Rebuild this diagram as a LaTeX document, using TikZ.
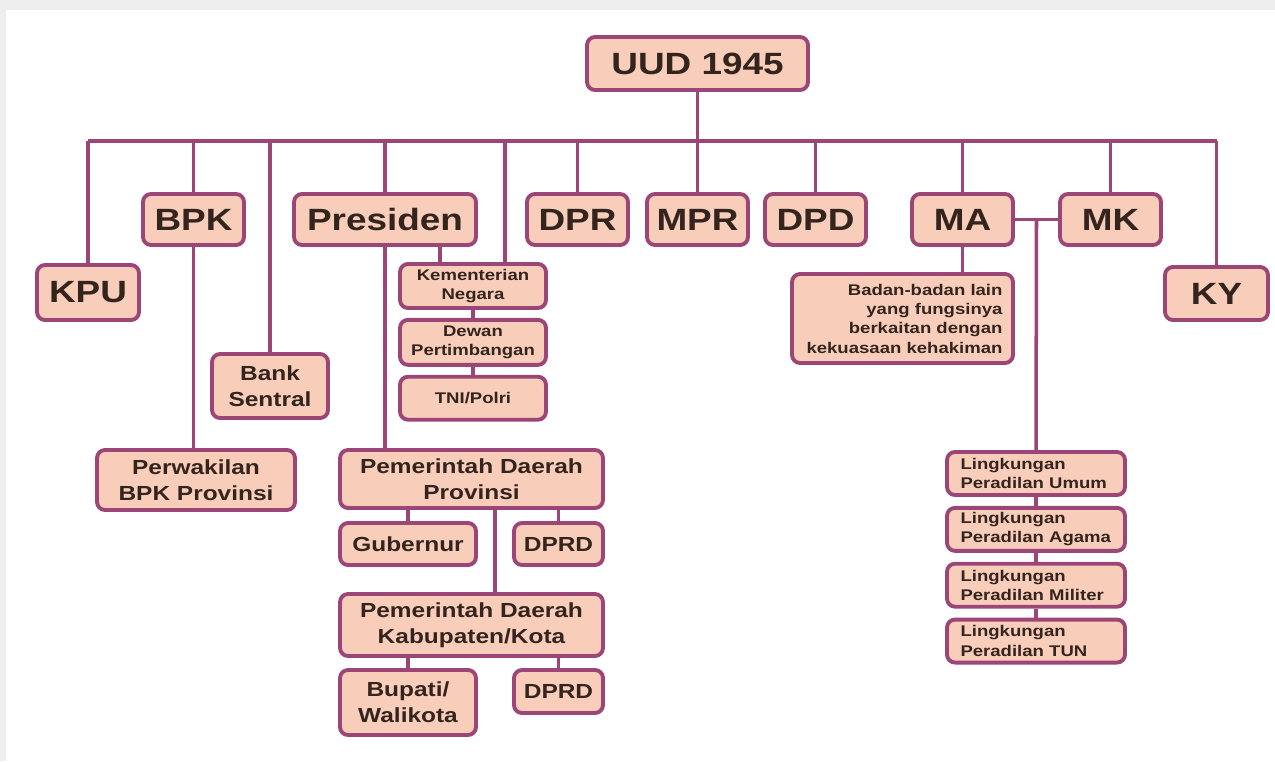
\documentclass[tikz,border=0pt]{standalone}
\usepackage{fontspec}
\newfontfamily\orgfont{Liberation Sans}[FakeStretch=1.2]
\usetikzlibrary{positioning, calc}
\definecolor{boxfill}{RGB}{248,205,186}
\definecolor{boxedge}{RGB}{156,70,120}
\definecolor{boxtext}{RGB}{52,36,30}
\definecolor{scanband}{RGB}{238,238,238}

\begin{document}
\begin{tikzpicture}[
        x=0.02cm, y=-0.02cm,
        node distance=0.16cm,
        unit/.style={rectangle, draw=boxedge, fill=boxfill, line width=2.2pt, rounded corners=0.16cm, text=boxtext, inner sep=2pt, font=\orgfont\bfseries},
        bigunit/.style={unit, font=\orgfont\bfseries\fontsize{17.5}{21}\selectfont, minimum width=2.02cm, minimum height=1.02cm},
        midunit/.style={unit, font=\orgfont\bfseries\fontsize{11.6}{14.6}\selectfont, align=center},
        smallunit/.style={unit, font=\orgfont\bfseries\fontsize{8.8}{11}\selectfont, align=center, minimum width=2.92cm},
        court/.style={smallunit, align=left, text width=3.02cm, minimum width=3.56cm, minimum height=0.86cm},
        link/.style={draw=boxedge, line width=2pt}
    ]
    \useasboundingbox (0,0) rectangle (1275,761);
    \fill[scanband] (0,0) rectangle (1275,10);
    \fill[scanband] (0,0) rectangle (6,761);

    % top level
    \node[bigunit, minimum width=4.42cm, minimum height=1.06cm] (uud) at (697.5,63.5) {UUD 1945};
    \coordinate (bus) at (0,141);

    \node[bigunit, minimum width=2.04cm, minimum height=1.1cm] (kpu) at (88,292.5) {KPU};
    \node[bigunit] (bpk) at (193.5,219.5) {BPK};
    \node[bigunit, minimum width=3.64cm] (pres) at (385,219.5) {Presiden};
    \node[bigunit] (dpr) at (577.5,219.5) {DPR};
    \node[bigunit] (mpr) at (697.5,219.5) {MPR};
    \node[bigunit] (dpd) at (815.5,219.5) {DPD};
    \node[bigunit] (ma) at (962.5,219.5) {MA};
    \node[bigunit] (mk) at (1110.5,219.5) {MK};
    \node[bigunit, minimum width=2.06cm, minimum height=1.06cm] (ky) at (1216.5,293.5) {KY};

    % under BPK and Presiden
    \node[midunit, minimum width=2.32cm, minimum height=1.28cm] (bank) at (270,386) {Bank\\Sentral};
    \node[smallunit, minimum height=0.88cm] (kem) at (473,286) {Kementerian\\Negara};
    \node[smallunit, minimum height=0.9cm, below=of kem] (dewan) {Dewan\\Pertimbangan};
    \node[smallunit, minimum height=0.86cm, below=of dewan] (tni) {TNI/Polri};
    \node[midunit, minimum width=3.96cm, minimum height=1.2cm] (perw) at (196,480) {Perwakilan\\BPK Provinsi};

    \node[midunit, minimum width=5.26cm, minimum height=1.16cm] (prov) at (471.5,479) {Pemerintah Daerah\\Provinsi};
    \node[midunit, minimum width=2.72cm, minimum height=0.84cm] (gub) at (408,544) {Gubernur};
    \node[midunit, minimum width=1.78cm, minimum height=0.84cm] (dprdprov) at (558.5,544) {DPRD};
    \node[midunit, minimum width=5.26cm, minimum height=1.24cm] (kab) at (471.5,625) {Pemerintah Daerah\\Kabupaten/Kota};
    \node[midunit, minimum width=2.72cm, minimum height=1.3cm] (bup) at (408,702.5) {Bupati/\\Walikota};
    \node[midunit, minimum width=1.78cm, minimum height=0.86cm] (dprdkab) at (558.5,691.5) {DPRD};

    % under MA and MK
    \node[smallunit, align=right, text width=4cm, minimum width=4.42cm, minimum height=1.78cm] (badan) at (902.5,318.5) {Badan-badan lain\\yang fungsinya\\berkaitan dengan\\kekuasaan kehakiman};
    \node[court] (umum) at (1036,473.5) {Lingkungan\\Peradilan Umum};
    \node[court, below=0.18cm of umum] (agama) {Lingkungan\\Peradilan Agama};
    \node[court, below=0.18cm of agama] (militer) {Lingkungan\\Peradilan Militer};
    \node[court, below=0.18cm of militer] (tun) {Lingkungan\\Peradilan TUN};

    % connectors
    \draw[link] (kpu.north |- bus) -- (ky.north |- bus);
    \draw[link] (uud.south) -- (mpr.north);
    \foreach \unit in {kpu,bpk,bank,pres,dpr,dpd,ma,mk,ky}
        \draw[link] (\unit.north) -- (\unit.north |- bus);
    \draw[link] ([xshift=0.64cm]kem.north) -- ([xshift=0.64cm]kem.north |- bus);
    \draw[link] ([xshift=-0.66cm]kem.north) -- ([xshift=-0.66cm]kem.north |- pres.south);
    \draw[link] (kem) -- (dewan);
    \draw[link] (dewan) -- (tni);
    \draw[link] (bpk.south) -- (bpk.south |- perw.north);
    \draw[link] (pres.south) -- (pres.south |- prov.north);
    \draw[link] (gub.north) -- (gub.north |- prov.south);
    \draw[link] (dprdprov.north) -- (dprdprov.north |- prov.south);
    \draw[link] ([xshift=0.47cm]prov.south) -- ([xshift=0.47cm]kab.north);
    \draw[link] (bup.north) -- (bup.north |- kab.south);
    \draw[link] (dprdkab.north) -- (dprdkab.north |- kab.south);
    \draw[link] (ma.south) -- (ma.south |- badan.north);
    \draw[link] (ma.east) -- (mk.west);
    \draw[link] ($(ma.east)!0.5!(mk.west)$) -- (umum.north);
    \draw[link] (umum) -- (agama);
    \draw[link] (agama) -- (militer);
    \draw[link] (militer) -- (tun);
\end{tikzpicture}
\end{document}
